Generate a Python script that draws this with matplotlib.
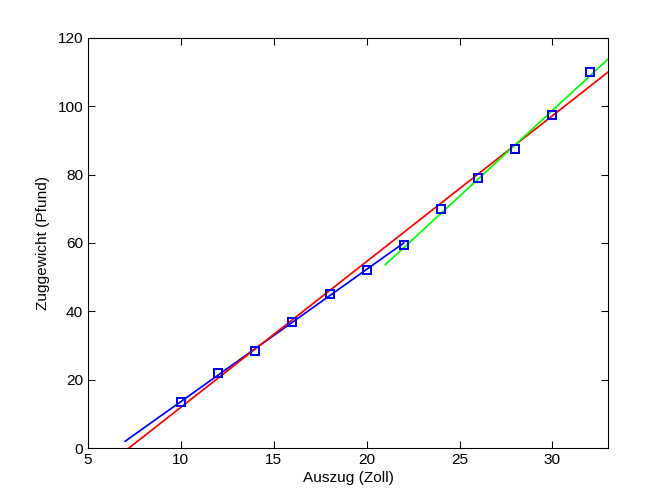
import matplotlib
matplotlib.use("Agg")
import matplotlib.pyplot as plt

# measured points
auszug = [10, 12, 14, 16, 18, 20, 22, 24, 26, 28, 30, 32]
zuggewicht = [13.5, 22, 28.5, 37, 45, 52, 59.5, 70, 79, 87.5, 97.5, 110]

# fitted lines (endpoints)
blue_x = [7.0, 22.0]
blue_y = [2.0, 60.0]
red_x = [7.2, 33.0]
red_y = [0.0, 110.0]
green_x = [21.0, 33.0]
green_y = [53.6, 113.8]

x_ticks = [5, 10, 15, 20, 25, 30]
y_ticks = [0, 20, 40, 60, 80, 100, 120]


def main():
    plt.rcParams["font.family"] = ["Liberation Sans", "DejaVu Sans"]
    fig = plt.figure(figsize=(7, 5.25), dpi=96)
    ax = fig.add_axes([0.131, 0.111, 0.774, 0.814])

    ax.plot(blue_x, blue_y, color=(0, 0, 1), lw=1.3)
    ax.plot(red_x, red_y, color=(1, 0, 0), lw=1.3)
    ax.plot(green_x, green_y, color=(0, 1, 0), lw=1.3)
    ax.plot(auszug, zuggewicht, ls="none", marker="s", ms=6.5, mfc="none",
            mec=(0, 0, 1), mew=1.5)

    ax.set_xlim(5, 33)
    ax.set_ylim(0, 120)
    ax.set_xticks(x_ticks)
    ax.set_yticks(y_ticks)
    ax.tick_params(direction="in", top=True, right=True, labelsize=11.5, length=5)
    ax.set_xlabel("Auszug (Zoll)", fontsize=11.5, labelpad=3)
    ax.set_ylabel("Zuggewicht (Pfund)", fontsize=11.5, labelpad=6)

    fig.savefig("out.png", dpi=96)


if __name__ == "__main__":
    main()
